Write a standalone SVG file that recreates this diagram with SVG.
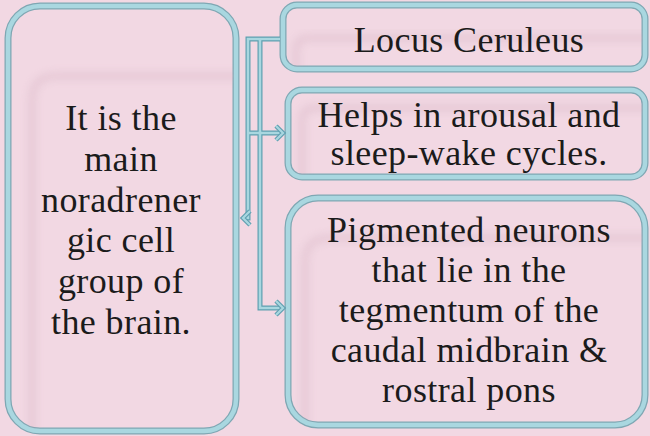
<svg xmlns="http://www.w3.org/2000/svg" width="650" height="436" viewBox="0 0 650 436">
<style>
.bg{fill:#f2d8e3}
.box-out{fill:#f2d8e3;stroke:#7fa7b3;stroke-width:7}
.box-in{fill:none;stroke:#a9d7e0;stroke-width:4.5}
.shade{fill:none;stroke:#c9a3b5;stroke-width:5;opacity:0.4;filter:url(#blur)}
.txt{font-size:36px;letter-spacing:0.4px;fill:#1b1b1b;text-anchor:middle}
.c-out{fill:none;stroke:#5f9fb0;stroke-width:5}
.c-in{fill:none;stroke:#a9d7e0;stroke-width:2.6}
</style>
<defs>
<filter id="blur" x="-20%" y="-20%" width="140%" height="140%"><feGaussianBlur stdDeviation="4"/></filter>
<clipPath id="cL"><rect x="8" y="6" width="228" height="425" rx="32"/></clipPath>
<clipPath id="cA"><rect x="283" y="5" width="362" height="64" rx="14"/></clipPath>
<clipPath id="cB"><rect x="288" y="90" width="357" height="87" rx="14"/></clipPath>
<clipPath id="cC"><rect x="288" y="198" width="357" height="227" rx="30"/></clipPath>
<marker id="arr" markerUnits="userSpaceOnUse" markerWidth="20" markerHeight="20" refX="10" refY="10" orient="auto" overflow="visible">
<path d="M3,3 L10,10 L3,17" fill="none" stroke="#5f9fb0" stroke-width="4.5"/>
<path d="M3,3 L10,10 L3,17" fill="none" stroke="#a9d7e0" stroke-width="2.2"/>
</marker>
</defs>
<rect class="bg" x="0" y="0" width="650" height="436"/>

<g font-family="'Liberation Serif', 'Times New Roman', Times, 'DejaVu Serif', serif">
<g id="node-left">
<rect class="box-out" x="8" y="6" width="228" height="425" rx="32"/>
<path class="shade" clip-path="url(#cL)" d="M32,440 V100 Q32,76 56,76 H245"/>
<rect class="box-in" x="8" y="6" width="228" height="425" rx="32"/>
<text class="txt" x="121" y="130">It is the</text>
<text class="txt" x="121" y="171">main</text>
<text class="txt" x="121" y="212">noradrener</text>
<text class="txt" x="121" y="252">gic cell</text>
<text class="txt" x="121" y="293">group of</text>
<text class="txt" x="121" y="334">the brain.</text>
</g>

<g id="node-locus">
<rect class="box-out" x="283" y="5" width="362" height="64" rx="14"/>
<path class="shade" clip-path="url(#cA)" d="M296,80 V50 Q296,38 308,38 H660"/>
<rect class="box-in" x="283" y="5" width="362" height="64" rx="14"/>
<text class="txt" x="469" y="52">Locus Ceruleus</text>
</g>

<g id="node-arousal">
<rect class="box-out" x="288" y="90" width="357" height="87" rx="14"/>
<path class="shade" clip-path="url(#cB)" d="M302,190 V120 Q302,108 314,108 H660"/>
<rect class="box-in" x="288" y="90" width="357" height="87" rx="14"/>
<text class="txt" x="469" y="127">Helps in arousal and</text>
<text class="txt" x="469" y="165">sleep-wake cycles.</text>
</g>

<g id="node-pigmented">
<rect class="box-out" x="288" y="198" width="357" height="227" rx="30"/>
<path class="shade" clip-path="url(#cC)" d="M305,440 V262 Q305,238 329,238 H660"/>
<rect class="box-in" x="288" y="198" width="357" height="227" rx="30"/>
<text class="txt" x="469" y="242">Pigmented neurons</text>
<text class="txt" x="469" y="282">that lie in the</text>
<text class="txt" x="469" y="322">tegmentum of the</text>
<text class="txt" x="469" y="362">caudal midbrain &amp;</text>
<text class="txt" x="469" y="402">rostral pons</text>
</g>
</g>

<g id="connectors">
<path class="c-out" d="M280,39 H248 V218 H243"/>
<path class="c-out" d="M260,39 V308 H283"/>
<path class="c-out" d="M248,133 H283"/>
<path class="c-in" d="M280,39 H248 V218 H243" marker-end="url(#arr)"/>
<path class="c-in" d="M260,39 V308 H283" marker-end="url(#arr)"/>
<path class="c-in" d="M248,133 H283" marker-end="url(#arr)"/>
</g>
</svg>
